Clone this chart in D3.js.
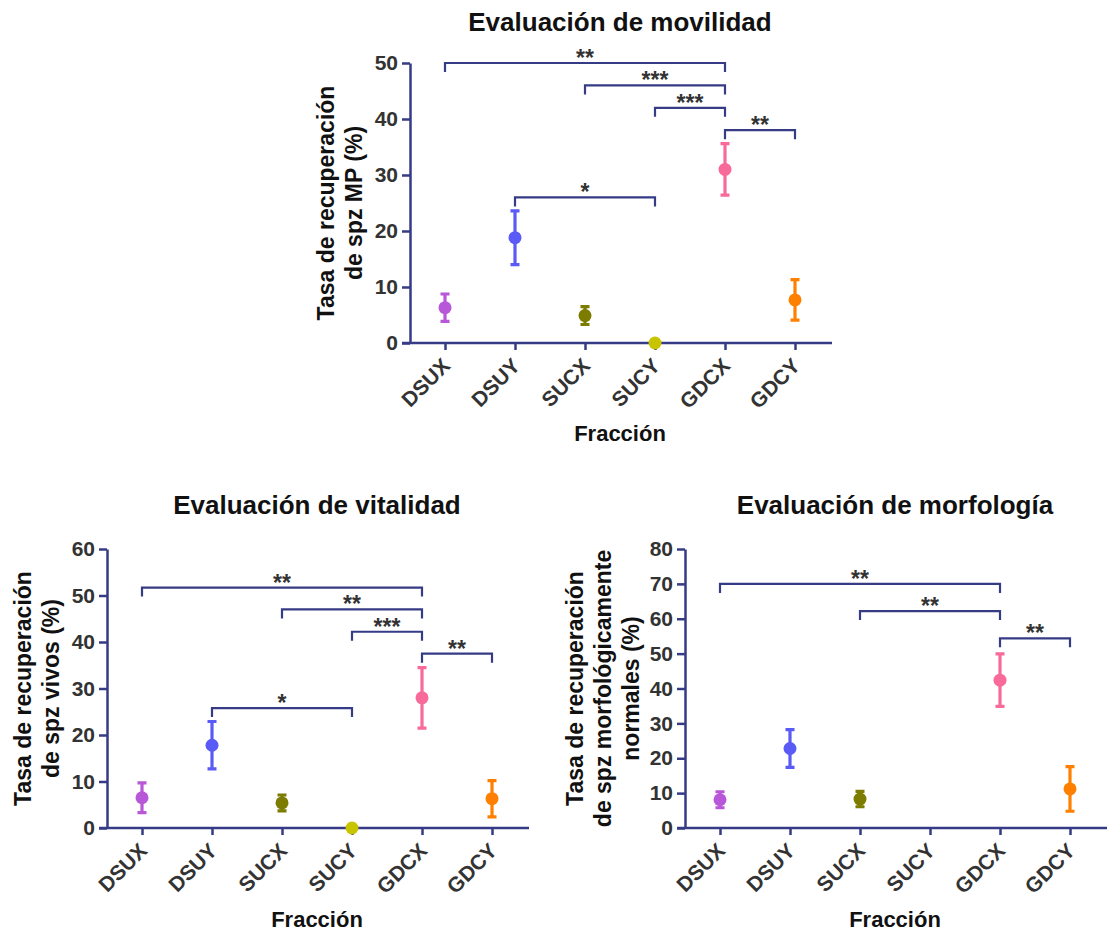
<!DOCTYPE html>
<html>
<head>
<meta charset="utf-8">
<script src="https://cdn.jsdelivr.net/npm/d3@7"></script>
<style>
  body { margin: 0; background: #fff; }
  svg text { font-family: "Liberation Sans", Arial, sans-serif; font-weight: bold; }
</style>
</head>
<body>
<div id="chart"></div>
<script>
// fracciones y colores
var fracciones = ["DSUX", "DSUY", "SUCX", "SUCY", "GDCX", "GDCY"]
var colores = ["#b857d8", "#5a5af6", "#7c7c00", "#c8c400", "#f76a9a", "#ff8000"]

// movilidad (media, error)
var movMedia = [6.3, 18.8, 4.9, 0, 31.0, 7.7]
var movError = [2.45, 4.8, 1.6, 0, 4.6, 3.6]
var movSig = [["DSUX", "GDCX", 50, "**"], ["SUCX", "GDCX", 46, "***"], ["SUCY", "GDCX", 42, "***"], ["GDCX", "GDCY", 38, "**"], ["DSUY", "SUCY", 26, "*"]]

// vitalidad
var vitMedia = [6.5, 17.8, 5.4, 0, 28.0, 6.3]
var vitError = [3.2, 5.1, 1.7, 0, 6.5, 3.9]
var vitSig = [["DSUX", "GDCX", 51.7, "**"], ["SUCX", "GDCX", 47, "**"], ["SUCY", "GDCX", 42.2, "***"], ["GDCX", "GDCY", 37.5, "**"], ["DSUY", "SUCY", 25.8, "*"]]

// morfologia (SUCY sin dato)
var morMedia = [8.1, 22.8, 8.3, null, 42.4, 11.2]
var morError = [2.3, 5.4, 2.2, null, 7.5, 6.4]
var morSig = [["DSUX", "GDCX", 70, "**"], ["SUCX", "GDCX", 62.2, "**"], ["GDCX", "GDCY", 54.4, "**"]]

var axisColor = "#363b85"
var tickTextColor = "#333"

var svg = d3.select("#chart").append("svg")
            .attr("width", 1112)
            .attr("height", 934)

drawPanel({ x0: 410, x1: 830, y0: 343, y1: 63, yMax: 50, titleY: 31, xTitleY: 441,
            title: "Evaluación de movilidad",
            yLabel: ["Tasa de recuperación", "de spz MP (%)"], yLabelX: 326 },
          movMedia, movError, movSig)

drawPanel({ x0: 107, x1: 527, y0: 828, y1: 549, yMax: 60, titleY: 514, xTitleY: 927,
            title: "Evaluación de vitalidad",
            yLabel: ["Tasa de recuperación", "de spz vivos (%)"], yLabelX: 23 },
          vitMedia, vitError, vitSig)

drawPanel({ x0: 685, x1: 1105, y0: 828, y1: 549, yMax: 80, titleY: 514, xTitleY: 927,
            title: "Evaluación de morfología",
            yLabel: ["Tasa de recuperación", "de spz morfológicamente", "normales (%)"], yLabelX: 575 },
          morMedia, morError, morSig)

function drawPanel(p, medias, errores, sig) {

    var x = d3.scalePoint().domain(fracciones).range([p.x0, p.x1]).padding(0.5)
    var y = d3.scaleLinear().domain([0, p.yMax]).range([p.y0, p.y1])

    var g = svg.append("g")

    // eje y
    var yAx = g.append("g")
               .attr("transform", "translate(" + p.x0 + ",0)")
               .call(d3.axisLeft(y).ticks(p.yMax / 10).tickSize(8).tickSizeOuter(0).tickPadding(4))
    styleAxis(yAx)
    yAx.selectAll("text").attr("font-size", 21)

    // eje x
    var xAx = g.append("g")
               .attr("transform", "translate(0," + p.y0 + ")")
               .call(d3.axisBottom(x).tickSize(7).tickSizeOuter(0))
    styleAxis(xAx)
    xAx.select(".domain").attr("d", "M" + (p.x0 - 8) + ",0H" + (p.x1 + 2))
    xAx.selectAll("text")
       .attr("font-size", 21)
       .attr("x", 0).attr("y", 0).attr("dy", 0)
       .style("text-anchor", "end")
       .attr("transform", "translate(6,24) rotate(-45)")

    // titulos
    g.append("text")
     .attr("x", (p.x0 + p.x1) / 2).attr("y", p.titleY)
     .attr("text-anchor", "middle").attr("font-size", 26).attr("fill", "#111")
     .text(p.title)

    g.append("text")
     .attr("x", (p.x0 + p.x1) / 2).attr("y", p.xTitleY)
     .attr("text-anchor", "middle").attr("font-size", 22).attr("fill", "#111")
     .text("Fracción")

    var yc = (p.y0 + p.y1) / 2
    p.yLabel.forEach(function (line, i) {
        var lx = p.yLabelX + i * 28
        g.append("text")
         .attr("transform", "translate(" + (lx + 8) + "," + yc + ") rotate(-90)")
         .attr("text-anchor", "middle").attr("font-size", 23).attr("fill", "#111")
         .text(line)
    })

    // datos
    var datos = fracciones.map(function (f, i) {
        return { f: f, m: medias[i], e: errores[i], c: colores[i] }
    }).filter(function (d) { return d.m !== null })

    var pts = g.selectAll(".pt").data(datos).join("g").attr("class", "pt")

    pts.filter(function (d) { return d.e > 0 })
       .append("path")
       .attr("d", function (d) {
           var cx = x(d.f), t = y(d.m + d.e), b = y(d.m - d.e)
           return "M" + cx + "," + t + "V" + b +
                  "M" + (cx - 4.5) + "," + t + "H" + (cx + 4.5) +
                  "M" + (cx - 4.5) + "," + b + "H" + (cx + 4.5)
       })
       .attr("stroke", function (d) { return d.c })
       .attr("stroke-width", 3.2)
       .attr("fill", "none")

    pts.append("circle")
       .attr("cx", function (d) { return x(d.f) })
       .attr("cy", function (d) { return y(d.m) })
       .attr("r", 6.5)
       .attr("fill", function (d) { return d.c })

    // corchetes de significancia
    var br = g.selectAll(".sig").data(sig).join("g").attr("class", "sig")
    br.append("path")
      .attr("d", function (d) {
          var a = x(d[0]), b = x(d[1]), yy = y(d[2])
          return "M" + a + "," + (yy + 9) + "V" + yy + "H" + b + "V" + (yy + 9)
      })
      .attr("stroke", axisColor).attr("stroke-width", 2.2).attr("fill", "none")
    br.append("text")
      .attr("x", function (d) { return (x(d[0]) + x(d[1])) / 2 })
      .attr("y", function (d) { return y(d[2]) + 3 })
      .attr("text-anchor", "middle").attr("font-size", 23).attr("fill", "#333")
      .text(function (d) { return d[3] })
}

function styleAxis(ax) {
    ax.select(".domain").attr("stroke", axisColor).attr("stroke-width", 2.5)
    ax.selectAll(".tick line").attr("stroke", axisColor).attr("stroke-width", 2.5)
    ax.selectAll("text").attr("fill", tickTextColor).style("font-family", "'Liberation Sans', Arial, sans-serif").style("font-weight", "bold")
}
</script>
</body>
</html>
